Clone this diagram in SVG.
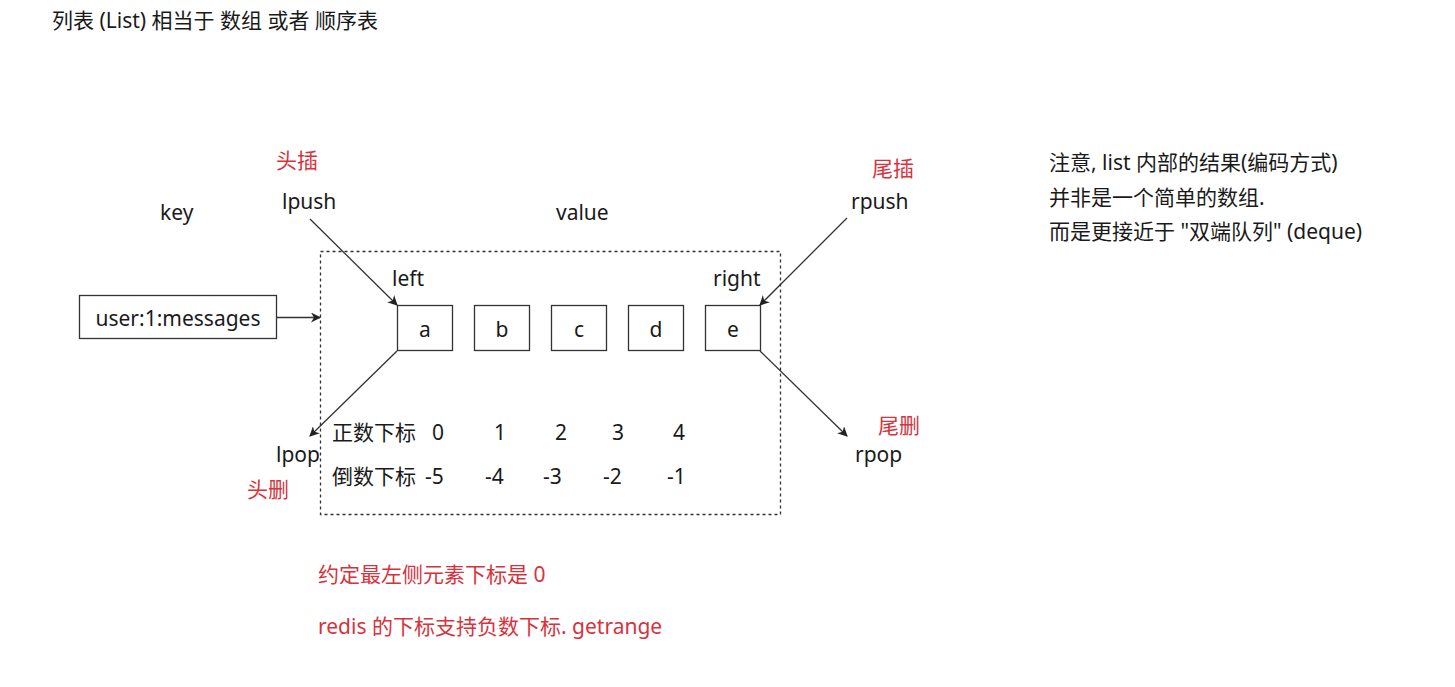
<svg xmlns="http://www.w3.org/2000/svg" width="1455" height="687" viewBox="0 0 1455 687">
<style>
text{font-family:"Noto Sans","Noto Sans CJK SC",sans-serif;font-size:21px;fill:#1a1a1a}
.red{fill:#d8323c}
.c{text-anchor:middle}
.box{fill:#fff;stroke:#333;stroke-width:1.3}
.ln{stroke:#333;stroke-width:1.3;fill:none}
</style>
<defs>
<marker id="ah" viewBox="0 0 10 10" refX="9" refY="5" markerWidth="10" markerHeight="10" markerUnits="userSpaceOnUse" orient="auto">
<path d="M0,0 L10,5 L0,10 L3,5 z" fill="#222"/>
</marker>
</defs>
<rect width="1455" height="687" fill="#fff"/>
<text x="52" y="28">列表 (List) 相当于 数组 或者 顺序表</text>

<g id="container">
<rect x="320.5" y="251.5" width="460" height="263" fill="none" stroke="#333" stroke-width="1.3" stroke-dasharray="3,3"/>
</g>

<g id="labels">
<text class="red" x="276" y="168">头插</text>
<text x="282" y="209">lpush</text>
<text x="160" y="220">key</text>
<text x="556" y="220">value</text>
<text class="red" x="872" y="176">尾插</text>
<text x="851" y="209">rpush</text>
<text x="392" y="286">left</text>
<text x="713" y="286">right</text>
<text x="276" y="462">lpop</text>
<text class="red" x="247" y="497">头删</text>
<text x="855" y="462">rpop</text>
<text class="red" x="878" y="433">尾删</text>
</g>

<g id="key">
<rect class="box" x="79.5" y="295.5" width="197" height="43"/>
<text class="c" x="178" y="326">user:1:messages</text>
</g>

<g id="node-a"><rect class="box" x="397.5" y="305.5" width="55" height="45"/><text class="c" x="425" y="337">a</text></g>
<g id="node-b"><rect class="box" x="474.5" y="305.5" width="55" height="45"/><text class="c" x="502" y="337">b</text></g>
<g id="node-c"><rect class="box" x="551.5" y="305.5" width="55" height="45"/><text class="c" x="579" y="337">c</text></g>
<g id="node-d"><rect class="box" x="628.5" y="305.5" width="55" height="45"/><text class="c" x="656" y="337">d</text></g>
<g id="node-e"><rect class="box" x="705.5" y="305.5" width="55" height="45"/><text class="c" x="733" y="337">e</text></g>

<g id="indices">
<text x="332" y="440">正数下标</text>
<text x="432" y="440">0</text>
<text x="494" y="440">1</text>
<text x="555" y="440">2</text>
<text x="612" y="440">3</text>
<text x="673" y="440">4</text>
<text x="332" y="484">倒数下标</text>
<text x="425" y="484">-5</text>
<text x="485" y="484">-4</text>
<text x="543" y="484">-3</text>
<text x="603" y="484">-2</text>
<text x="667" y="484">-1</text>
</g>

<g id="connectors">
<line class="ln" x1="277" y1="317.5" x2="320" y2="317.5" marker-end="url(#ah)"/>
<line class="ln" x1="310" y1="219" x2="397" y2="305" marker-end="url(#ah)"/>
<line class="ln" x1="847" y1="218" x2="760" y2="305" marker-end="url(#ah)"/>
<line class="ln" x1="397" y1="351" x2="310" y2="436" marker-end="url(#ah)"/>
<line class="ln" x1="760" y1="351" x2="847" y2="436" marker-end="url(#ah)"/>
</g>

<g id="notes">
<text class="red" x="318" y="582">约定最左侧元素下标是 0</text>
<text class="red" x="318" y="634">redis 的下标支持负数下标. getrange</text>
<text x="1049" y="170">注意, list 内部的结果(编码方式)</text>
<text x="1049" y="205">并非是一个简单的数组.</text>
<text x="1049" y="239">而是更接近于 "双端队列" (deque)</text>
</g>
</svg>
